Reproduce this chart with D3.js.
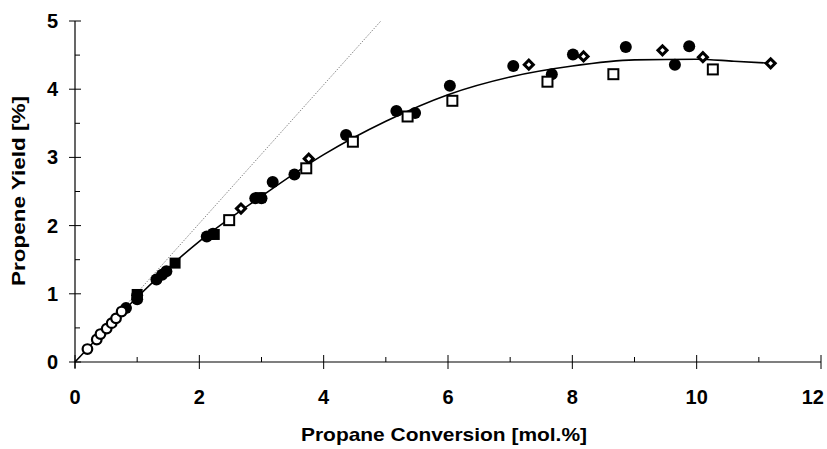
<!DOCTYPE html>
<html><head><meta charset="utf-8">
<script src="https://cdn.jsdelivr.net/npm/d3@7"></script>
<style>body{margin:0;background:#fff}svg{display:block}text{font-family:Arial,"Liberation Sans",sans-serif;font-weight:bold;fill:#000}</style>
</head><body><svg id="c" width="827" height="449"></svg>
<script>
const xTicks = [0,2,4,6,8,10,12];
const yTicks = [0,1,2,3,4,5];
const xTitle = "Propane Conversion [mol.%]";
const yTitle = "Propene Yield [%]";
const openCircles = [[0.2,0.19],[0.35,0.33],[0.41,0.41],[0.51,0.49],[0.59,0.57],[0.66,0.64],[0.75,0.74]];
const filledCircles = [[0.82,0.79],[1.0,0.98],[1.0,0.92],[1.31,1.21],[1.4,1.28],[1.47,1.33],[2.12,1.84],[2.22,1.88],[2.9,2.40],[3.0,2.40],[3.18,2.64],[3.53,2.75],[4.36,3.33],[5.17,3.68],[5.47,3.65],[6.03,4.05],[7.05,4.34],[7.67,4.22],[8.01,4.51],[8.86,4.62],[9.65,4.36],[9.88,4.63]];
const filledSquares = [[1.0,0.99],[1.61,1.45],[2.24,1.87],[2.98,2.41]];
const openDiamonds = [[2.67,2.25],[3.76,2.98],[7.3,4.36],[8.18,4.48],[9.45,4.57],[10.1,4.47],[11.19,4.38]];
const openSquares = [[2.48,2.08],[3.72,2.84],[4.47,3.23],[5.35,3.60],[6.07,3.83],[7.6,4.11],[8.66,4.22],[10.26,4.29]];
const fitCurve = [[0,0],[1,0.95],[2,1.77],[3,2.43],[4,3.04],[5,3.53],[6,3.92],[7,4.18],[8,4.34],[9,4.43],[10,4.44],[10.6,4.41],[11.19,4.38]];
const refLine = [[0,0],[4.92,5]];

const svg = d3.select("#c");
const x = d3.scaleLinear().domain([0,12]).range([75,821]);
const y = d3.scaleLinear().domain([0,5]).range([362,21]);

// axes lines
svg.append("line").attr("x1",x(0)).attr("x2",x(12)).attr("y1",y(0)).attr("y2",y(0)).attr("stroke","#000").attr("stroke-width",1.2);
svg.append("line").attr("x1",x(0)).attr("x2",x(0)).attr("y1",y(0)+6).attr("y2",y(5)).attr("stroke","#000").attr("stroke-width",1.2);
// x ticks
xTicks.forEach((t,i)=>{
  svg.append("line").attr("x1",x(t)).attr("x2",x(t)).attr("y1",y(0)-7).attr("y2",y(0)+7).attr("stroke","#000");
  const last = i===xTicks.length-1;
  svg.append("text").attr("x",last?824:x(t)).attr("y",404).attr("text-anchor",last?"end":"middle").attr("font-size",20).text(t);
});
d3.range(1,12,2).forEach(t=>{
  svg.append("line").attr("x1",x(t)).attr("x2",x(t)).attr("y1",y(0)-5).attr("y2",y(0)).attr("stroke","#000");
});
yTicks.forEach(t=>{
  svg.append("line").attr("x1",x(0)-6).attr("x2",x(0)+6).attr("y1",y(t)).attr("y2",y(t)).attr("stroke","#000");
  svg.append("text").attr("x",58).attr("y",y(t)+7).attr("text-anchor","end").attr("font-size",20).text(t);
});
d3.range(0.5,5,1).forEach(t=>{
  svg.append("line").attr("x1",x(0)).attr("x2",x(0)+5).attr("y1",y(t)).attr("y2",y(t)).attr("stroke","#000");
});
svg.append("text").attr("x",444).attr("y",441).attr("text-anchor","middle").attr("font-size",19)
  .attr("textLength",286).attr("lengthAdjust","spacingAndGlyphs").text(xTitle);
svg.append("text").attr("transform","translate(25,191) rotate(-90)").attr("text-anchor","middle").attr("font-size",19)
  .attr("textLength",190).attr("lengthAdjust","spacingAndGlyphs").text(yTitle);

const line = d3.line().x(d=>x(d[0])).y(d=>y(d[1]));
svg.append("path").attr("d",line(refLine)).attr("fill","none").attr("stroke","#666").attr("stroke-width",1).attr("stroke-dasharray","1,1.5");
svg.append("path").attr("d",line.curve(d3.curveMonotoneX)(fitCurve)).attr("fill","none").attr("stroke","#000").attr("stroke-width",1.6);

const g = svg.append("g");
g.selectAll(".fc").data(filledCircles).join("circle").attr("cx",d=>x(d[0])).attr("cy",d=>y(d[1])).attr("r",6).attr("fill","#000");
g.selectAll(".fs").data(filledSquares).join("rect").attr("x",d=>x(d[0])-5.5).attr("y",d=>y(d[1])-5.5).attr("width",11).attr("height",11).attr("fill","#000");
g.selectAll(".oc").data(openCircles).join("circle").attr("cx",d=>x(d[0])).attr("cy",d=>y(d[1])).attr("r",4.8).attr("fill","#fff").attr("stroke","#000").attr("stroke-width",2.2);
g.selectAll(".od").data(openDiamonds).join("path").attr("transform",d=>`translate(${x(d[0])},${y(d[1])}) rotate(45)`).attr("d","M-3.2,-3.2H3.2V3.2H-3.2Z").attr("fill","#fff").attr("stroke","#000").attr("stroke-width",3);
g.selectAll(".os").data(openSquares).join("rect").attr("x",d=>x(d[0])-5).attr("y",d=>y(d[1])-5).attr("width",10).attr("height",10).attr("fill","#fff").attr("stroke","#000").attr("stroke-width",2);
</script></body></html>
